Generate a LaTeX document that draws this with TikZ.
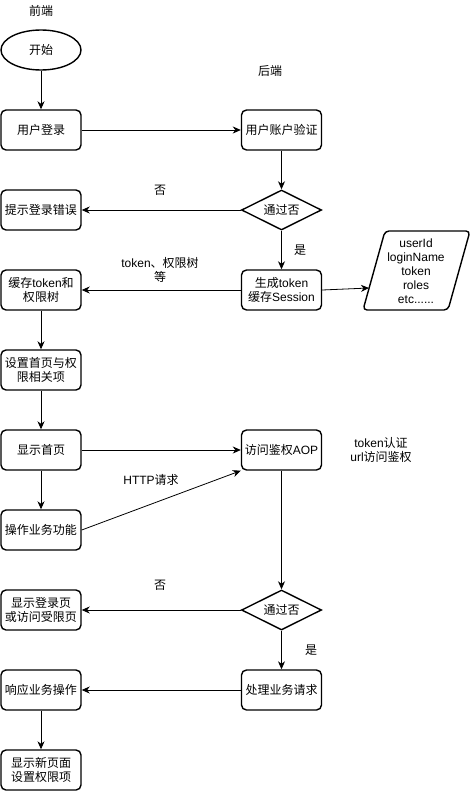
\documentclass[tikz,border=0pt]{standalone}
\usepackage{fontspec}
\setmainfont{Liberation Sans}
\newfontfamily\cjk{Noto Sans CJK SC}
\newcommand{\zh}[1]{{\cjk #1}}
\usetikzlibrary{shapes.geometric,arrows.meta}
\begin{document}
\begin{tikzpicture}[x=1pt,y=-1pt,
  every node/.style={font=\fontsize{12}{14}\selectfont},
  box/.style={draw,rounded corners=5pt,line width=1.4pt,minimum width=80pt,minimum height=40pt,align=center,inner sep=1pt},
  term/.style={draw,ellipse,line width=1.4pt,minimum width=80pt,minimum height=40pt,inner sep=1pt},
  dec/.style={draw,diamond,aspect=2,line width=1.4pt,minimum width=80pt,minimum height=40pt,inner sep=0pt},
  lbl/.style={align=center,inner sep=0pt},
  arr/.style={-{Stealth[length=8pt,width=7pt,inset=2.5pt]},line width=0.8pt}
]
\useasboundingbox (0,0) rectangle (472,792);
% left column
\node[term] (start) at (41,50) {\zh{开始}};
\node[box] (login) at (41,130) {\zh{用户登录}};
\node[box] (err) at (41,210) {\zh{提示登录错误}};
\node[box] (cache) at (41,290) {\zh{缓存}token\zh{和}\\\zh{权限树}};
\node[box] (setup) at (41,370) {\zh{设置首页与权}\\\zh{限相关项}};
\node[box] (home) at (41,450) {\zh{显示首页}};
\node[box] (op) at (41,530) {\zh{操作业务功能}};
\node[box] (deny) at (41,610) {\zh{显示登录页}\\\zh{或访问受限页}};
\node[box] (resp) at (41,690) {\zh{响应业务操作}};
\node[box] (newp) at (41,770) {\zh{显示新页面}\\\zh{设置权限项}};
% right column
\node[box] (verify) at (281.5,130) {\zh{用户账户验证}};
\node[dec] (pass1) at (281.5,210) {\zh{通过否}};
\node[box] (gen) at (281.5,290) {\zh{生成}token\\\zh{缓存}Session};
\node[box] (aop) at (281.5,450) {\zh{访问鉴权}AOP};
\node[dec] (pass2) at (281.5,610) {\zh{通过否}};
\node[box] (proc) at (281.5,690) {\zh{处理业务请求}};
% data parallelogram
\draw[line width=1.4pt,rounded corners=4pt] (385,231) -- (470,231) -- (448,310) -- (363,310) -- cycle;
\node[lbl] (data) at (416,271) {userId\\loginName\\token\\roles\\etc......};
\coordinate (dataL) at (369,288);
% free labels
\node[lbl] (fe) at (41,11) {\zh{前端}};
\node[lbl] (be) at (270,71) {\zh{后端}};
\node[lbl] (no1) at (160,190) {\zh{否}};
\node[lbl] (yes1) at (300,250) {\zh{是}};
\node[lbl] (tok) at (160,270) {token\zh{、权限树}\\\zh{等}};
\node[lbl] (http) at (151,480) {HTTP\zh{请求}};
\node[lbl] (auth) at (381,450) {token\zh{认证}\\url\zh{访问鉴权}};
\node[lbl] (no2) at (160,585) {\zh{否}};
\node[lbl] (yes2) at (311,650) {\zh{是}};
% connectors
\draw[arr] (start) -- (login);
\draw[arr] (login) -- (verify);
\draw[arr] (verify) -- (pass1);
\draw[arr] (pass1) -- (err);
\draw[arr] (pass1) -- (gen);
\draw[arr] (gen) -- (cache);
\draw[arr] (gen.east) -- (dataL);
\draw[arr] (cache) -- (setup);
\draw[arr] (setup) -- (home);
\draw[arr] (home) -- (aop);
\draw[arr] (home) -- (op);
\draw[arr] (op.east) -- (aop.south west);
\draw[arr] (aop) -- (pass2);
\draw[arr] (pass2) -- (deny);
\draw[arr] (pass2) -- (proc);
\draw[arr] (proc) -- (resp);
\draw[arr] (resp) -- (newp);
\end{tikzpicture}
\end{document}
